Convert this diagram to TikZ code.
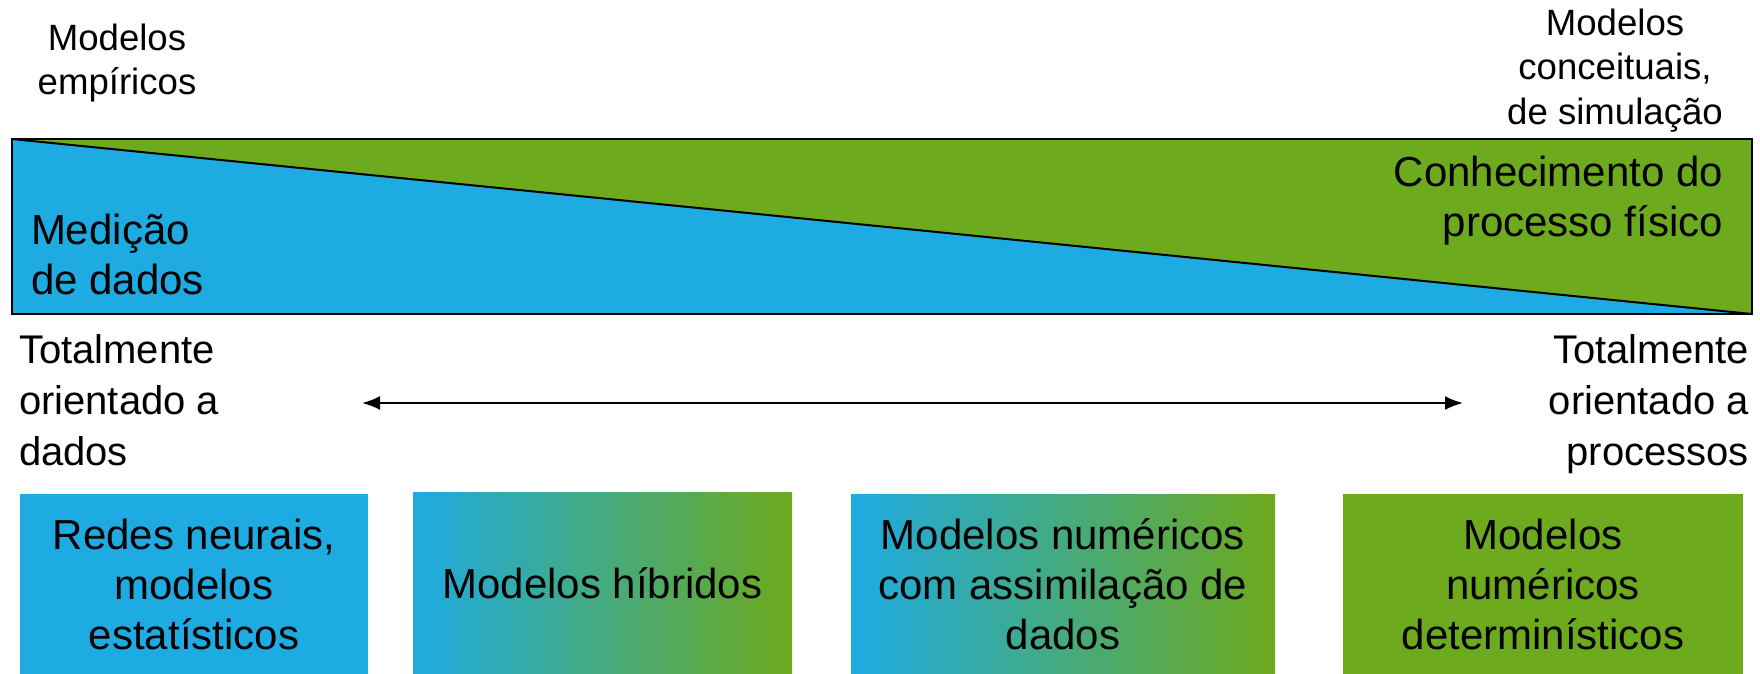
\documentclass[tikz,border=0pt]{standalone}
\usepackage{fontspec}
\setmainfont{Liberation Sans}
\usetikzlibrary{arrows.meta}
\definecolor{cblue}{RGB}{29,171,226}
\definecolor{cgreen}{RGB}{109,170,29}
\begin{document}
\begin{tikzpicture}[x=1pt,y=-1pt,
  lbl/.style={inner sep=0pt, outer sep=0pt, font=\fontsize{36.6}{44.5}\selectfont},
  big/.style={inner sep=0pt, outer sep=0pt, font=\fontsize{42}{50}\selectfont},
  ends/.style={inner sep=0pt, outer sep=0pt, font=\fontsize{40}{51}\selectfont},
  model/.style={anchor=north west, inner sep=0pt, outer sep=0pt, minimum height=180pt,
    font=\fontsize{42}{50}\selectfont, align=center},
  edge/.style={line width=2pt, draw=black},
  twoway/.style={{Latex[length=18pt,width=14pt]}-{Latex[length=18pt,width=14pt]}}
]
\useasboundingbox (0,0) rectangle (1760,674);
% split bar
\fill[cblue] (12,139) rectangle (1752,314);
\fill[cgreen] (12,139) -- (1752,139) -- (1752,314) -- cycle;
\draw[edge] (12,139) -- (1752,314);
\draw[edge] (12,139) rectangle (1752,314);
% labels
\node[lbl, anchor=north, align=center] (emp) at (117,23.6) {Modelos\\empíricos};
\node[lbl, anchor=north, align=center] (conc) at (1615,8.6) {Modelos\\conceituais,\\de simulação};
\node[big, anchor=north west, align=left] (med) at (31,213.8) {Medição\\de dados};
\node[big, anchor=north east, align=right] (con) at (1723,155.8) {Conhecimento do\\processo físico};
\node[ends, anchor=north west, align=left] (tl) at (19,335) {Totalmente\\orientado a\\dados};
\node[ends, anchor=north east, align=right] (tr) at (1749,335) {Totalmente\\orientado a\\processos};
% arrow
\coordinate (aL) at (362,403);
\coordinate (aR) at (1463,403);
\draw[edge, twoway] (aL) -- (aR);
% model boxes
\node[model, fill=cblue, minimum width=348pt] (b1) at (20,494) {Redes neurais,\\modelos\\estatísticos};
\node[model, left color=cblue, right color=cgreen, minimum width=379pt, minimum height=182pt] (b2) at (413,492) {Modelos híbridos};
\node[model, left color=cblue, right color=cgreen, minimum width=424pt] (b3) at (851,494) {Modelos numéricos\\com assimilação de\\dados};
\node[model, fill=cgreen, minimum width=400pt] (b4) at (1343,494) {Modelos\\numéricos\\determinísticos};
\end{tikzpicture}
\end{document}
